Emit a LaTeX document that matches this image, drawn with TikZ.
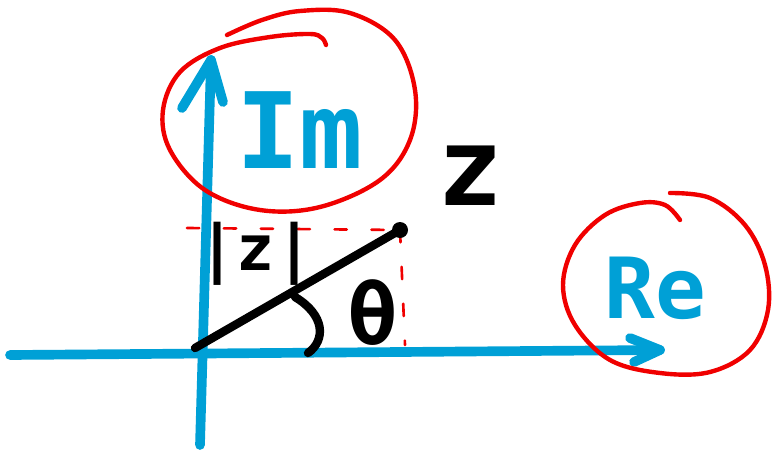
\documentclass[tikz,border=0pt]{standalone}
\usepackage{fontspec}
\setmainfont{DejaVu Sans Mono}
\usetikzlibrary{arrows.meta, positioning}
\definecolor{axisblue}{RGB}{0,160,214}
\definecolor{loopred}{RGB}{240,0,0}

\begin{document}
\begin{tikzpicture}[x=0.02cm, y=-0.02cm, line cap=round, line join=round,
    axis/.style={axisblue, line width=5.5pt},
    loop/.style={loopred, line width=2.5pt},
    guide/.style={loopred, line width=1.5pt, dash pattern=on 7pt off 14pt},
    vec/.style={black, line width=4.8pt},
    hand/.style={font=\bfseries\fontsize{#1}{#1}\selectfont}]
    \useasboundingbox (0,0) rectangle (774,450);
    % Axes
    \coordinate (west) at (10,355);
    \coordinate (east) at (660,350);
    \coordinate (south) at (200,445);
    \coordinate (north) at (211,60);
    \draw[axis] (west) -- (east);
    \draw[axis] (south) -- (north);
    % Arrow heads (hand strokes)
    \draw[axis] (630,338) -- (east) -- (634,362);
    \draw[axis] (182,108) -- (north) -- (223,102);
    % Axis labels
    \node[axisblue, hand=60] (im) at (300,130) {Im};
    \node[axisblue, hand=48] (re) at (655,288) {Re};
    % Loops round the labels
    \draw[loop] plot[smooth, tension=0.6] coordinates {(227,35) (262,20) (300,11) (350,13) (395,40) (415,90) (410,140) (380,180) (320,207) (260,210) (205,190) (170,150) (163,110) (180,72) (220,48) (270,37) (310,34) (322,38) (326,45)};
    \draw[loop] plot[smooth, tension=0.6] coordinates {(670,193) (710,198) (745,225) (765,265) (768,310) (750,350) (710,372) (660,373) (610,360) (575,325) (563,285) (575,245) (605,215) (640,203) (665,205) (680,220)};
    % Point z and its modulus
    \coordinate (O) at (195,348);
    \coordinate (z) at (400,230);
    \coordinate (zim) at (187,228);
    \coordinate (zre) at (405,345);
    \draw[guide] (zim) -- (z);
    \draw[guide] (z) -- (zre);
    \draw[vec] (O) -- (z);
    \fill (z) circle (8);
    \node[hand=62] (zlabel) at (470,176) {z};
    \node[hand=36] (modz) at (256,254) {|z|};
    % Angle
    \draw[vec] (295,297) .. controls (325,315) and (326,340) .. (308,353);
    \node[hand=48] (theta) at (373,313) {θ};
\end{tikzpicture}
\end{document}
